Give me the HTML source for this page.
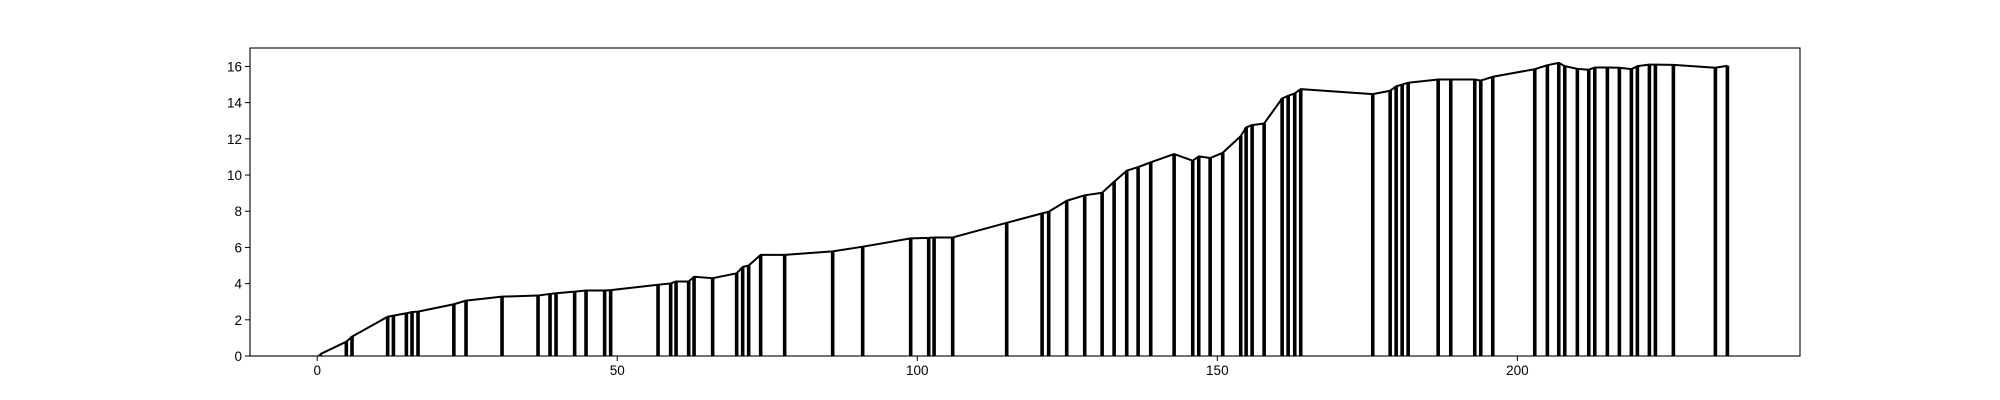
<!DOCTYPE html>
<html><head><meta charset="utf-8"><style>
html,body{margin:0;padding:0;background:#fff;}
svg{display:block;font-family:"Liberation Sans","DejaVu Sans",sans-serif;}
</style></head><body>
<svg id="chart" width="2000" height="400" viewBox="0 0 2000 400" xmlns="http://www.w3.org/2000/svg"></svg>
<script>
const xs = [0.5,4.85,5.8,11.74,12.7,14.86,15.8,16.8,22.77,24.8,30.8,36.8,38.8,39.8,42.9,44.8,47.9,48.9,56.8,58.9,59.8,61.9,62.8,65.9,69.9,70.9,71.9,73.9,77.9,85.9,90.9,98.9,101.9,102.8,105.9,114.9,120.8,121.9,124.9,127.9,130.8,132.8,134.9,136.8,138.9,142.8,145.9,146.9,148.8,150.9,153.9,154.8,155.8,157.8,160.8,161.8,162.9,163.9,175.9,178.8,179.8,180.8,181.8,186.8,188.9,192.9,193.9,195.9,202.9,205.0,206.9,207.9,210.0,211.9,212.9,215.0,217.0,219.0,220.0,222.0,223.0,226.0,233.0,235.0];
const ys = [0.1,0.79,1.07,2.17,2.23,2.36,2.43,2.45,2.86,3.06,3.28,3.34,3.43,3.47,3.56,3.62,3.62,3.64,3.94,4.01,4.12,4.12,4.38,4.3,4.57,4.92,5.0,5.59,5.59,5.78,6.04,6.5,6.53,6.55,6.55,7.36,7.88,7.97,8.58,8.88,9.02,9.63,10.24,10.44,10.7,11.16,10.79,11.03,10.94,11.23,12.15,12.63,12.76,12.85,14.23,14.38,14.51,14.75,14.47,14.66,14.9,15.0,15.1,15.28,15.28,15.28,15.22,15.43,15.85,16.07,16.2,16.02,15.87,15.82,15.94,15.94,15.93,15.85,16.02,16.1,16.1,16.09,15.93,16.04];
const xTicks = [0,50,100,150,200];
const yTicks = [0,2,4,6,8,10,12,14,16];

const L=250,R=1800,T=48,B=356;
const XMIN=-11.2,XMAX=247.1,YMIN=0,YMAX=17.02;
const sx=v=>L+(v-XMIN)/(XMAX-XMIN)*(R-L);
const sy=v=>B-(v-YMIN)/(YMAX-YMIN)*(B-T);
const NS="http://www.w3.org/2000/svg";
const svg=document.getElementById('chart');
function mk(tag,attrs,parent){const e=document.createElementNS(NS,tag);for(const k in attrs)e.setAttribute(k,attrs[k]);(parent||svg).appendChild(e);return e;}

const bars=mk('g',{});


const bw=0.6;
xs.forEach((x,i)=>{
  const r=mk('rect',{x:sx(x-bw/2),y:sy(ys[i]),width:sx(x+bw/2)-sx(x-bw/2),height:sy(0)-sy(ys[i]),fill:'#000'},bars);
  
  
});
const line=mk('polyline',{points:xs.map((x,i)=>sx(x)+','+sy(ys[i])).join(' '),fill:'none',stroke:'#000','stroke-width':2,'stroke-linejoin':'round'});



const frame=mk('rect',{x:L,y:T,width:R-L,height:B-T,fill:'none',stroke:'#000','stroke-width':1.1});



const xa=mk('g',{});


xTicks.forEach(t=>{
  mk('line',{x1:sx(t),x2:sx(t),y1:B,y2:B+5,stroke:'#000','stroke-width':1},xa);
  const tx=mk('text',{x:sx(t),y:B+19,'font-size':13.5,'text-anchor':'middle',fill:'#000'},xa);
  tx.textContent=t;
  
  
});
const ya=mk('g',{});


yTicks.forEach(t=>{
  mk('line',{x1:L-5,x2:L,y1:sy(t),y2:sy(t),stroke:'#000','stroke-width':1},ya);
  const tx=mk('text',{x:L-8,y:sy(t)+5,'font-size':13.5,'text-anchor':'end',fill:'#000'},ya);
  tx.textContent=t;
  
  
});
</script>
</body></html>
